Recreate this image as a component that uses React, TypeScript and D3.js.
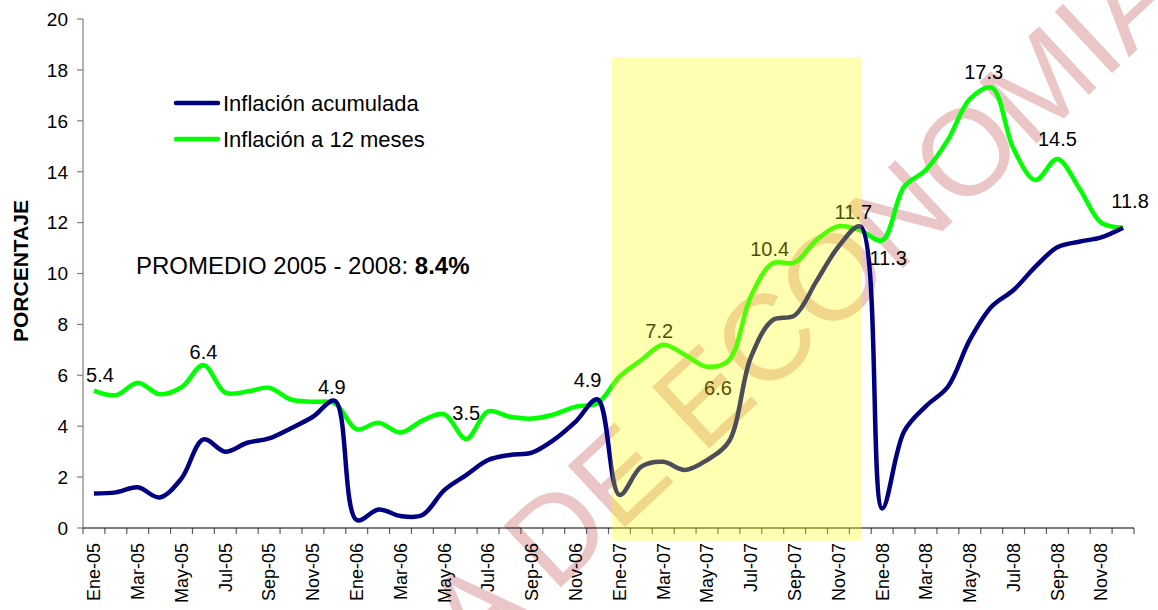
import React from "react";
import * as d3 from "d3";

const months = ["Ene", "Feb", "Mar", "Abr", "May", "Jun", "Jul", "Ago", "Sep", "Oct", "Nov", "Dic"];
const years = ["05", "06", "07", "08"];
const categories = years.flatMap((y) => months.map((m) => `${m}-${y}`));

const inflacionAcumulada = [
  1.36, 1.4, 1.6, 1.2, 1.95, 3.48, 3.0, 3.35, 3.52, 3.92, 4.37, 5.0,
  0.31, 0.73, 0.47, 0.51, 1.49, 2.08, 2.67, 2.87, 2.96, 3.46, 4.18, 5.05,
  1.3, 2.41, 2.6, 2.28, 2.67, 3.4, 6.7, 8.17, 8.35, 9.7, 11.05, 11.85,
  0.77, 3.79, 4.79, 5.55, 7.39, 8.7, 9.35, 10.27, 11.03, 11.25, 11.42, 11.8,
];
const inflacion12 = [
  5.4, 5.22, 5.71, 5.26, 5.53, 6.4, 5.32, 5.36, 5.51, 5.05, 4.96, 4.9,
  3.88, 4.14, 3.75, 4.22, 4.47, 3.5, 4.58, 4.37, 4.3, 4.46, 4.77, 4.9,
  5.95, 6.6, 7.2, 6.8, 6.34, 6.6, 9.1, 10.4, 10.43, 11.32, 11.86, 11.7,
  11.3, 13.41, 14.07, 15.25, 16.85, 17.3, 14.9, 13.67, 14.5, 13.35, 12.0, 11.8,
];
const yTicks = [0, 2, 4, 6, 8, 10, 12, 14, 16, 18, 20];
// indices of green points carrying a data label
const labelIndices = [0, 5, 11, 17, 23, 26, 29, 31, 35, 36, 41, 44, 47];
// highlighted period (in category units) and its value extent
const highlightRange = [24.14, 35.56];
const highlightValues = [-0.5, 18.5];

const seriesNames = ["Inflación acumulada", "Inflación a 12 meses"];
const promedioText = "PROMEDIO 2005 - 2008: ";
const promedioValue = "8.4%";
const watermark = "A DE ECONOMIA";

// label offsets (px) relative to the points
const labelOffsets: Record<number, [number, number]> = {
  0: [6, -9], 5: [0, -6], 11: [-3, -9], 17: [0, -19], 23: [-10, -16], 26: [-4, -7],
  29: [-11, 35], 31: [-3, -7], 35: [-7, -11], 36: [6, 25], 41: [-8, -9], 44: [0, -13], 47: [7, -20],
};

const FONT = "'Liberation Sans', Arial, Helvetica, sans-serif";
const NAVY = "#000080";
const GREEN = "#00ff00";

export default function App() {
  const W = 1158, H = 610;
  const left = 83, right = 1134, top = 19, bottom = 528;
  const x = d3.scaleBand<number>().domain(d3.range(categories.length)).range([left, right]).paddingInner(0).paddingOuter(0);
  const bw = x.bandwidth();
  const cx = (i: number) => (x(i) as number) + bw / 2;
  const xLin = d3.scaleLinear().domain([0, categories.length]).range([left, right]);
  const y = d3.scaleLinear().domain([0, 20]).range([bottom, top]);

  const line = d3.line<number>().x((_, i) => cx(i)).y((v) => y(v)).curve(d3.curveCatmullRom.alpha(0.5));

  const boundaries = d3.range(categories.length + 1).map((k) => xLin(k));

  return (
    <svg width={W} height={H} style={{ position: "absolute", left: 0, top: 0, background: "#fff" }} fontFamily={FONT}>
      <rect x={0} y={0} width={W} height={H} fill="#fff" />
      {/* watermark */}
      <text x={474} y={668} fontSize={122} fill="#ebc6c6" transform="rotate(-43 474 668)">{watermark}</text>

      {/* y axis */}
      <line x1={left} x2={left} y1={top} y2={bottom} stroke="#808080" strokeWidth={1.2} />
      {yTicks.map((t) => (
        <g key={t}>
          <line x1={left - 6} x2={left} y1={y(t)} y2={y(t)} stroke="#808080" strokeWidth={1.2} />
          <text x={left - 15} y={y(t)} dy="0.36em" textAnchor="end" fontSize={19} fill="#000">{t}</text>
        </g>
      ))}
      <text transform={`translate(28,271) rotate(-90)`} textAnchor="middle" fontSize={21} fontWeight="bold" fill="#000">PORCENTAJE</text>

      {/* x axis */}
      {boundaries.map((b, k) => (
        <line key={k} x1={b} x2={b} y1={bottom} y2={bottom + 6} stroke="#606060" strokeWidth={1.2} />
      ))}
      <line x1={left} x2={right} y1={bottom} y2={bottom} stroke="#000" strokeWidth={1.2} />
      {categories.map((c, i) =>
        i % 2 === 0 ? (
          <text key={c} transform={`translate(${cx(i)},${bottom + 15}) rotate(-90)`} dy="0.35em" textAnchor="end" fontSize={18} fill="#000">{c}</text>
        ) : null
      )}

      {/* lines */}
      <path d={line(inflacion12) || ""} fill="none" stroke={GREEN} strokeWidth={4.5} strokeLinejoin="round" />
      <path d={line(inflacionAcumulada) || ""} fill="none" stroke={NAVY} strokeWidth={4.5} strokeLinejoin="round" />

      {/* data labels */}
      {labelIndices.map((i) => {
        const [dx, dy] = labelOffsets[i];
        return (
          <text key={i} x={cx(i) + dx} y={y(inflacion12[i]) + dy} textAnchor="middle" fontSize={20} fill="#000">
            {d3.format(".1f")(inflacion12[i])}
          </text>
        );
      })}

      {/* highlight */}
      <rect
        x={xLin(highlightRange[0])}
        width={xLin(highlightRange[1]) - xLin(highlightRange[0])}
        y={y(highlightValues[1])}
        height={y(highlightValues[0]) - y(highlightValues[1])}
        fill="#ffff00"
        opacity={0.3}
      />

      {/* legend */}
      {seriesNames.map((n, k) => (
        <g key={n} transform={`translate(0,${103 + k * 36})`}>
          <line x1={176} x2={218} y1={0} y2={0} stroke={k === 0 ? NAVY : GREEN} strokeWidth={4.5} strokeLinecap="round" />
          <text x={223} y={0} dy="0.36em" fontSize={22} fill="#000">{n}</text>
        </g>
      ))}

      <text x={136} y={274} fontSize={24} fill="#000">
        {promedioText}
        <tspan fontWeight="bold">{promedioValue}</tspan>
      </text>
    </svg>
  );
}
